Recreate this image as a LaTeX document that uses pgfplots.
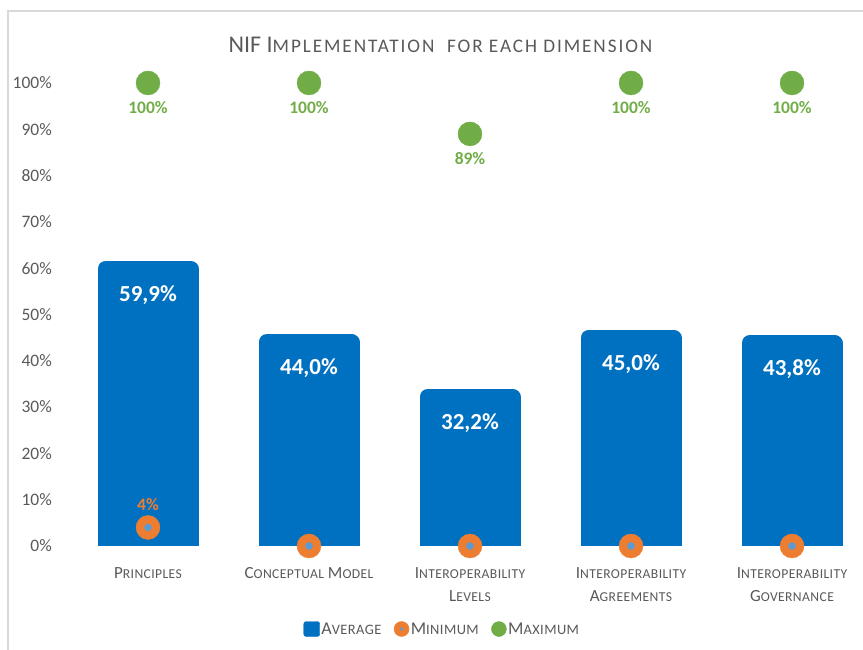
\documentclass[border=0pt]{standalone}
\usepackage{fontspec}
\setmainfont{Carlito}
\usepackage{pgfplots}
\pgfplotsset{compat=1.18}
\definecolor{barblue}{HTML}{0070C0}
\definecolor{minorange}{HTML}{ED7D31}
\definecolor{maxgreen}{HTML}{70AD47}
\definecolor{dotblue}{HTML}{5B9BD5}
\definecolor{txtgray}{HTML}{595959}
\definecolor{framegray}{HTML}{D9D9D9}
\makeatletter
\newcommand\smc[2][3]{{\fontsize{\fpeval{0.8*\f@size}}{\f@baselineskip}\selectfont\addfontfeature{LetterSpace=#1}\MakeUppercase{#2}}}
\makeatother
\begin{document}
\begin{tikzpicture}
\pgfplotsset{
  base/.style={at={(67.5pt,104pt)}, anchor=south west, scale only axis,
    width=795.5pt, height=463pt, xmin=-0.5, xmax=4.441, ymin=0, ymax=100}
}
\draw[framegray, line width=1.5pt] (8pt,0pt) -- (8pt,639pt) -- (863pt,639pt);
\node[font=\fontsize{24}{27}\selectfont, text=txtgray] at (440.5pt,605pt) {NIF I\smc[10]{mplementation}\hspace{0.3em} \smc[10]{for each dimension}};
% bars (clipped at 0 so the bottom stays square)
\begin{axis}[base, hide axis, clip=true, ybar, bar width=85pt]
\addplot[fill=barblue, draw=barblue, line width=16pt, line join=round,
  point meta=explicit symbolic, nodes near coords,
  every node near coord/.append style={font=\fontsize{23}{26}\selectfont\bfseries, text=white, anchor=center, yshift=-26pt}]
  coordinates {(0,59.9) [59,9\%] (1,44.0) [44,0\%] (2,32.2) [32,2\%] (3,45.0) [45,0\%] (4,43.8) [43,8\%]};
\end{axis}
\begin{axis}[base, clip=false,
  axis line style={draw=none}, major tick length=0pt, tick style={draw=none},
  xtick={0,1,2,3,4},
  xticklabels={P\smc{rinciples}, C\smc{onceptual} M\smc{odel}, I\smc{nteroperability}\\L\smc{evels}, I\smc{nteroperability}\\A\smc{greements}, I\smc{nteroperability}\\G\smc{overnance}},
  xticklabel style={font=\fontsize{17}{23}\selectfont, text=txtgray, align=center, anchor=north, inner sep=0pt, yshift=-21pt},
  ytick={0,10,20,30,40,50,60,70,80,90,100},
  yticklabels={0\%,10\%,20\%,30\%,40\%,50\%,60\%,70\%,80\%,90\%,100\%},
  yticklabel style={font=\fontsize{17.5}{20}\selectfont, text=txtgray, anchor=east, inner sep=0pt, xshift=-15.5pt},
  legend style={at={(0.4708,-0.1793)}, anchor=center, draw=none, fill=none,
    font=\fontsize{18}{21}\selectfont, text=txtgray,
    /tikz/every even column/.append style={column sep=11pt},
    nodes={inner sep=1.5pt}},
  legend columns=-1, legend cell align=left]
\addlegendimage{legend image code/.code={\fill[barblue, rounded corners=2.5pt] (0pt,-7.5pt) rectangle (16pt,7.5pt);}}
\addlegendentry{A\smc{verage}}
\addlegendimage{legend image code/.code={\fill[minorange] (7.5pt,0pt) circle (7.5pt); \fill[dotblue] (7.5pt,0pt) circle (1.5pt);}}
\addlegendentry{M\smc{inimum}}
\addlegendimage{legend image code/.code={\fill[maxgreen] (7.5pt,0pt) circle (7.5pt);}}
\addlegendentry{M\smc{aximum}}
% minimum
\addplot[forget plot, only marks, mark=*, mark size=12pt, draw=minorange, fill=minorange,
  mark options={draw=minorange, fill=minorange},
  point meta=explicit symbolic, nodes near coords,
  every node near coord/.append style={font=\fontsize{17.5}{20}\selectfont\bfseries, text=minorange, anchor=center, yshift=23pt}]
  coordinates {(0,4) [4\%] (1,0) [] (2,0) [] (3,0) [] (4,0) []};
\addplot[forget plot, only marks, mark=*, mark size=3.5pt, draw=dotblue, fill=dotblue,
  mark options={draw=dotblue, fill=dotblue}]
  coordinates {(0,4) (1,0) (2,0) (3,0) (4,0)};
% maximum
\addplot[forget plot, only marks, mark=*, mark size=12pt, draw=maxgreen, fill=maxgreen,
  mark options={draw=maxgreen, fill=maxgreen},
  point meta=explicit symbolic, nodes near coords,
  every node near coord/.append style={font=\fontsize{17.5}{20}\selectfont\bfseries, text=maxgreen, anchor=center, yshift=-25pt}]
  coordinates {(0,100) [100\%] (1,100) [100\%] (2,89) [89\%] (3,100) [100\%] (4,100) [100\%]};
\end{axis}
\pgfresetboundingbox
\path (0pt,0pt) rectangle (863pt,650pt);
\end{tikzpicture}
\end{document}
